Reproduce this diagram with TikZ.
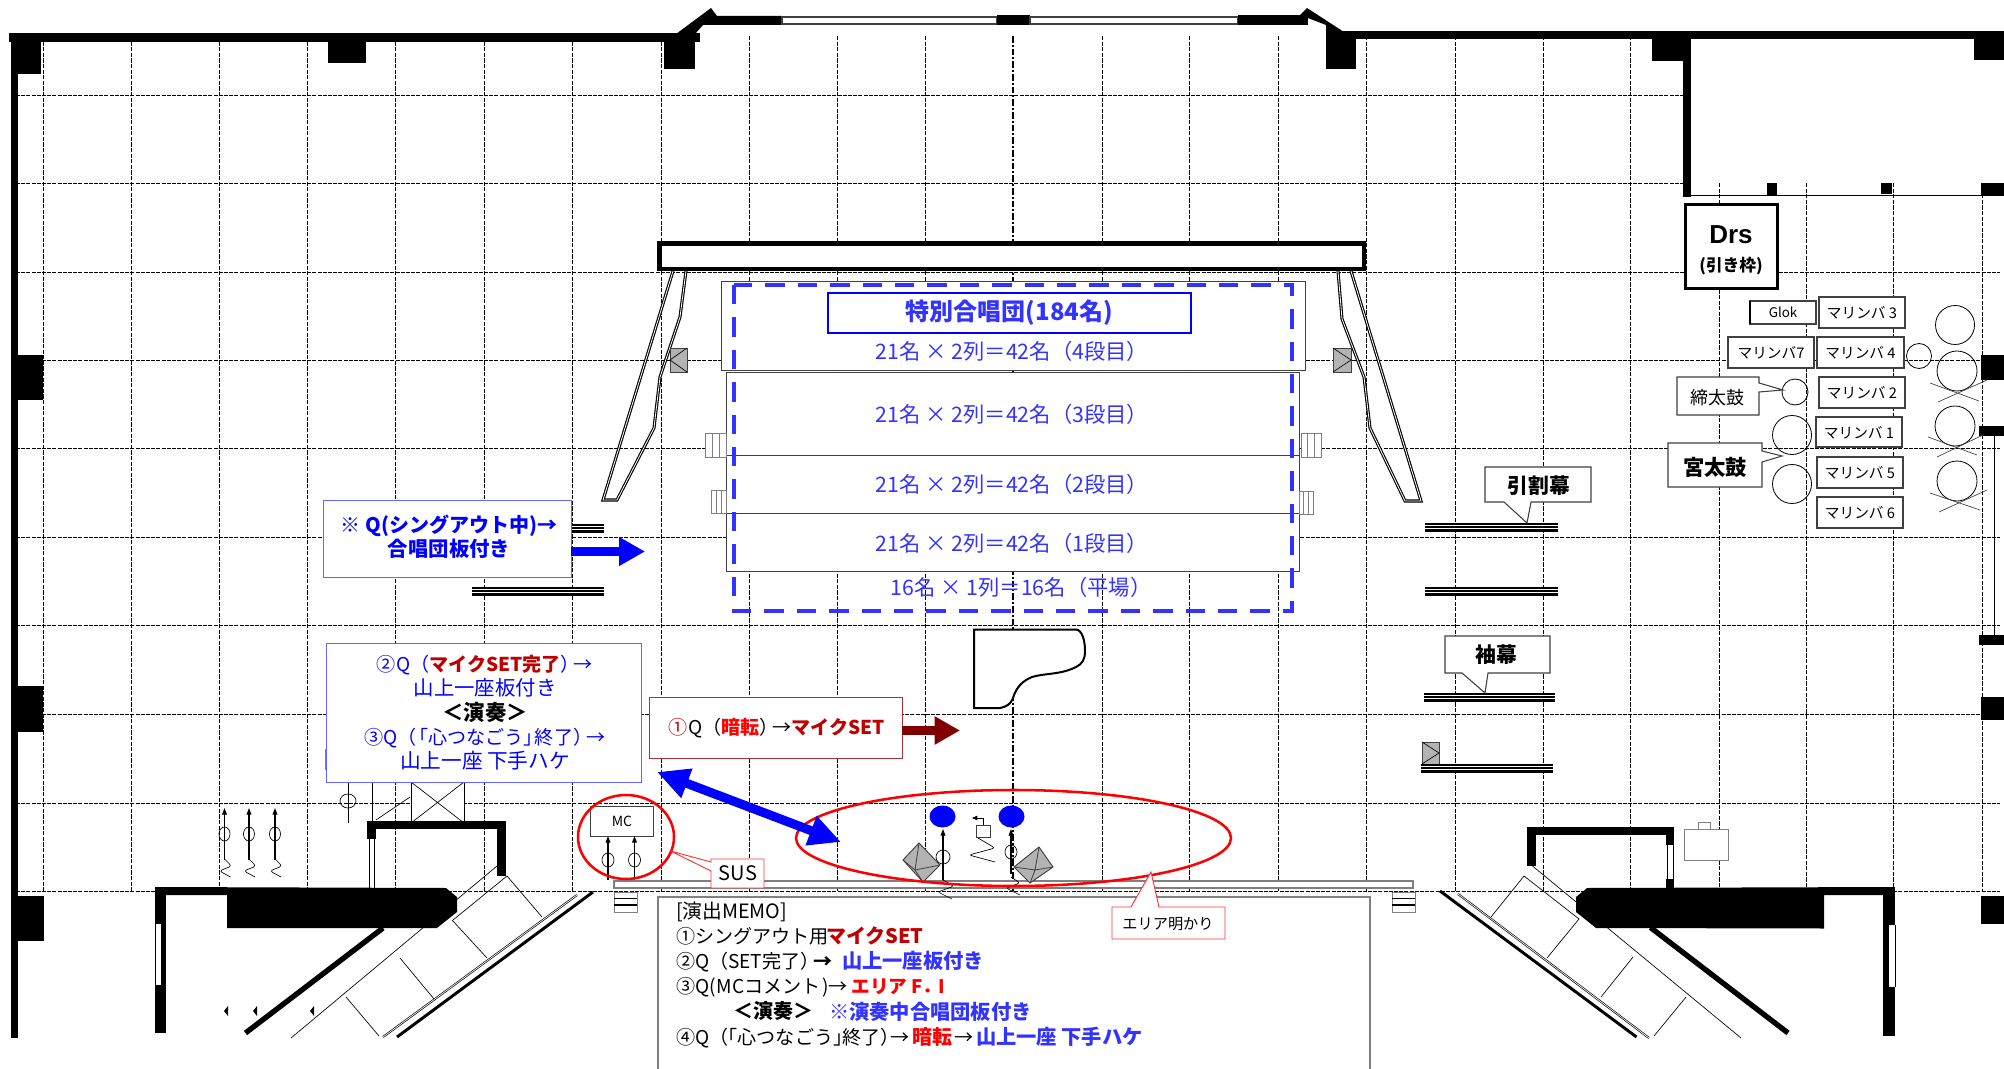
\documentclass[tikz,border=0pt]{standalone}
\usepackage{fontspec}
\setmainfont{Noto Sans CJK JP}
\newfontfamily\lat{Liberation Sans}
\usetikzlibrary{arrows.meta}
\definecolor{qblue}{HTML}{0000FF}
\definecolor{cblue}{HTML}{3333FF}
\definecolor{dred}{HTML}{C00000}
\definecolor{mred}{HTML}{FF0000}
\definecolor{arrred}{HTML}{7F0000}
\definecolor{lgrey}{HTML}{808080}
\definecolor{dgrey}{HTML}{404040}
\newcommand{\fs}[1]{\fontsize{#1}{#1}\selectfont}
\tikzset{
 x=0.75pt,y=-0.75pt,
 gridh/.style={line width=0.6pt,dash pattern=on 3pt off 0.9pt},
 gridv/.style={line width=0.5pt,dash pattern=on 3.2pt off 1pt},
 gridc/.style={line width=1.5pt,dash pattern=on 5pt off 1.5pt on 1.5pt off 1.5pt},
 wingline/.style={draw=black,line width=0.85pt,double=white,double distance=0.6pt,line join=miter},
 thinl/.style={line width=0.5pt,draw=black},
 txt/.style={inner sep=0pt,outer sep=0pt,align=center,text depth=0pt},
 rowtxt/.style={txt,text=cblue,font=\fs{16}},
 qbox/.style={draw=qblue!60!white,fill=white,line width=0.7pt},
 greybox/.style={draw=dgrey,fill=lgrey!60!white,line width=0.5pt},
 choir/.style={draw=dgrey,fill=white,line width=0.6pt},
 callout/.style={draw=dgrey,fill=white,line width=0.8pt,line join=miter},
 redcall/.style={draw=mred!80!white,fill=white,line width=0.7pt,line join=miter},
 redring/.style={draw=mred,line width=1.9pt},
 mic/.style={draw=black,line width=0.7pt},
 micarrow/.style={draw=black,line width=0.8pt,-{Triangle[length=5pt,width=3.6pt]}},
 squig/.style={draw=black,line width=0.5pt,rounded corners=2pt},
 stagewall/.style={fill=black},
}
\begin{document}
\begin{tikzpicture}
\useasboundingbox (0,0) rectangle (2004,1069);
\fill[white] (0,0) rectangle (2004,1069);

% ---------- grid ----------
\foreach \y in {95,183} \draw[gridh] (16,\y) -- (1685,\y);
\foreach \y in {272,360,448,537,625,714,803,891} \draw[gridh] (16,\y) -- (2000,\y);
\foreach \x in {43,131,219,307,395,484,572,661,749,837,925,1102,1189,1278,1366,1455,1543,1630}
  \draw[gridv] (\x,36) -- (\x,891);
\foreach \x in {1719,1806,1893,1982} \draw[gridv] (\x,183) -- (\x,891);
\draw[gridc] (1013,36) -- (1013,891);

% ---------- walls ----------
\fill[stagewall] (9,33) rectangle (700,42);
\fill[stagewall] (11,33) rectangle (18,1038);
\fill[stagewall] (11,42) rectangle (41,74);
\fill[stagewall] (328,42) rectangle (366,63);
\fill[stagewall] (664,33) rectangle (695,69);
\fill[stagewall] (11,355) rectangle (43,400);
\fill[stagewall] (11,686) rectangle (43,732);
\fill[stagewall] (11,896) rectangle (44,941);
\fill[stagewall] (676,34) -- (711,8) -- (717,16) -- (782,16) -- (782,25) -- (703,25) -- (695,34) -- cycle;
\draw[line width=0.8pt,draw=dgrey,fill=white] (782,17) rectangle (997,24);
\fill[stagewall] (997,15) rectangle (1030,25);
\draw[line width=0.8pt,draw=dgrey,fill=white] (1030,17) rectangle (1238,24);
\fill[stagewall] (1238,15) rectangle (1308,25);
\fill[stagewall] (1307,8) -- (1344,32) -- (1326,32) -- (1326,25) -- (1300,15) -- cycle;
\fill[stagewall] (1326,31) rectangle (2004,39);
\fill[stagewall] (1326,31) rectangle (1356,69);
\fill[stagewall] (1652,39) rectangle (1691,61);
\fill[stagewall] (1683,39) rectangle (1691,197);
\fill[stagewall] (1974,39) rectangle (2004,60);
\draw[line width=0.8pt] (1691,195.5) -- (2004,195.5);
\fill[stagewall] (1767,183) rectangle (1777,195);
\fill[stagewall] (1881,183) rectangle (1892,194);
\fill[stagewall] (1981,183) rectangle (2004,196);
\fill[stagewall] (1981,355) rectangle (2004,380);
\fill[stagewall] (1979,426) rectangle (2004,436);
\fill[stagewall] (1979,635) rectangle (2004,645);
\fill[stagewall] (1981,697) rectangle (2004,720);
\fill[stagewall] (1981,896) rectangle (2004,924);
\draw[line width=0.6pt] (1994,436) -- (1994,635);

% ---------- wings and top bar ----------
\draw[wingline] (673,271) -- (603,500) -- (617,500) -- (654,428) -- (660,377) -- (680,317) -- (686,271);
\draw[wingline] (1351,271) -- (1421,501) -- (1405,501) -- (1370,428) -- (1364,377) -- (1342,319) -- (1338,271);
\draw[line width=3.7pt,fill=white] (659.5,243.5) rectangle (1364,269);

% ---------- grey stands ----------
\draw[greybox] (670,348) rectangle (687,372);
\draw[line width=0.5pt] (687,348) -- (670,360) -- (687,372);
\draw[greybox] (1333,348) rectangle (1351,372);
\draw[line width=0.5pt] (1333,348) -- (1351,360) -- (1333,372);
\draw[greybox] (1422,742) rectangle (1439,764);
\draw[line width=0.5pt] (1422,742) -- (1439,753) -- (1422,764);

% ---------- curtains ----------
\foreach \a/\b/\y in {472/604/524,472/604/587,1425/1558/523,1425/1558/587,1424/1555/693,1421/1553/764}{
  \fill[black] (\a,\y) rectangle (\b,\y+8.5);
  \draw[white,line width=0.7pt] (\a,\y+2.8) -- (\b,\y+2.8);
  \draw[white,line width=0.7pt] (\a,\y+5.8) -- (\b,\y+5.8);
}

% ---------- choir platforms ----------
\draw[choir] (721,281) rectangle (1305,370);
\draw[choir] (726,372) rectangle (1299,455);
\draw[choir] (726,455) rectangle (1299,513);
\draw[choir] (726,513) rectangle (1299,571.5);
\foreach \a/\b/\t/\u in {705/726/433/457,711/726/490/513,1301/1321/433/457,1299/1313/491/514}{
  \draw[draw=lgrey,line width=0.6pt,fill=white] (\a,\t) rectangle (\b,\u);
  \draw[draw=lgrey,line width=0.6pt] ({(2*\a+\b)/3},\t) -- ({(2*\a+\b)/3},\u);
  \draw[draw=lgrey,line width=0.6pt] ({(\a+2*\b)/3},\t) -- ({(\a+2*\b)/3},\u);
}
\draw[draw=cblue,line width=3pt,dash pattern=on 14.5pt off 9.8pt] (734,285) rectangle (1292,611);
\node[draw=qblue,fill=white,line width=1.5pt,minimum width=272pt,minimum height=30pt,inner sep=0pt,text=cblue,font=\fs{18}\bfseries] (title) at (1009.5,313) {特別合唱団(184名)};
\node[rowtxt] (r4) at (1012,350) {21名 × 2列＝42名（4段目）};
\node[rowtxt] (r3) at (1012,413) {21名 × 2列＝42名（3段目）};
\node[rowtxt] (r2) at (1012,483) {21名 × 2列＝42名（2段目）};
\node[rowtxt] (r1) at (1012,542) {21名 × 2列＝42名（1段目）};
\node[rowtxt] (r0) at (1021,586) {16名 × 1列＝16名（平場）};

% ---------- piano ----------
\draw[line width=1.5pt,fill=white] (974,629.5) -- (1076,629.5) .. controls (1082,630) and (1085,640) .. (1085,651)
  .. controls (1085,660) and (1082,664) .. (1076,667) .. controls (1060,675) and (1045,673) .. (1032,677)
  .. controls (1022,681) and (1016,688) .. (1013,698) .. controls (1011,704) and (1006,707) .. (1000,708) -- (974,708) -- cycle;

% ---------- left lower structures ----------
\draw[thinl] (348,782) -- (348,823);
\draw[thinl] (348,801) ellipse [x radius=8,y radius=7];
\draw[thinl] (372.5,782) -- (372.5,825);
\draw[thinl,fill=white] (411,782) rectangle (464,823);
\draw[thinl] (411,823) -- (464,782) (411,782) -- (464,823);
\draw[thinl] (376,820) -- (410,797);
\draw[draw=lgrey,line width=0.7pt] (325,749) -- (325,770);

% left mics
\foreach \x in {224.5,249,275}{
  \draw[micarrow] (\x,860) -- (\x,808);
  \draw[mic,line width=0.5pt] (\x,834) ellipse [x radius=5.5,y radius=7];
  \draw[squig] (\x,859) -- (\x+7,866) -- (\x-5,871) -- (\x+6,877);
}

% left U wall
\fill[stagewall] (367,821) rectangle (506,828.5);
\fill[stagewall] (497,821) rectangle (506,876);
\fill[stagewall] (367,821) rectangle (376,839);
\draw[thinl] (369,839) -- (369,888) (374,839) -- (374,888);

% right U wall
\fill[stagewall] (1527,827) rectangle (1674,835);
\fill[stagewall] (1527,827) rectangle (1536,866);
\fill[stagewall] (1666,827) rectangle (1674,845);
\fill[stagewall] (1666,879) rectangle (1674,888);
\draw[thinl] (1667,845) -- (1667,879) (1673,845) -- (1673,879);

% left stage block
\fill[stagewall] (157,887) -- (446,888) -- (457,897) -- (457,912) -- (437,928) -- (227,928) -- (227,895) -- (157,895) -- cycle;
\fill[stagewall] (155,887) rectangle (166,924);
\fill[stagewall] (155,985) rectangle (166,1033);
\fill[stagewall] (161,924) rectangle (166,985);
\draw[draw=black,line width=0.5pt] (155,924) -- (155,985);
\draw[line width=4pt] (383,928) -- (245.5,1033);
\draw[thinl] (497,866) -- (291,1038);
\draw[thinl] (507,876) -- (453,920);
\draw[thinl] (507,876) -- (542,917);
\draw[thinl] (452,920) -- (487,958);
\draw[thinl] (400,958) -- (434,999);
\draw[thinl] (346,997) -- (379,1036);
\draw[line width=0.5pt,double=white,double distance=0.5pt] (577,895) -- (383,1037);
\draw[line width=2.2pt] (593,892) -- (397,1037);
\foreach \x in {226,255,312} \fill[black] (\x-2,1011) -- (\x+2,1006) -- (\x+2,1016) -- cycle;

% right stage block
\fill[stagewall] (1587,888) -- (1892,887) -- (1892,895) -- (1824,895) -- (1824,928.5) -- (1596,928) -- (1576,912) -- (1576,897) -- cycle;
\fill[stagewall] (1883,887) rectangle (1895,925);
\fill[stagewall] (1883,987) rectangle (1895,1036);
\fill[stagewall] (1883,925) rectangle (1889,987);
\draw[draw=black,line width=0.5pt] (1895,925) -- (1895,987);
\draw[line width=4pt] (1650.5,927.5) -- (1788,1033);
\draw[thinl] (1532.5,866) -- (1741,1038);
\draw[thinl] (1524,876) -- (1579,919);
\draw[thinl] (1524,876) -- (1491,917);
\draw[thinl] (1579,919) -- (1547,958);
\draw[thinl] (1633,957) -- (1601,997);
\draw[thinl] (1686,997) -- (1654,1036);
\draw[line width=0.5pt,double=white,double distance=0.5pt] (1458,894) -- (1649,1038);
\draw[line width=2.2pt] (1440,891) -- (1636.5,1037);
\draw[draw=lgrey,line width=0.7pt,fill=white] (1684,829.5) rectangle (1728,860);
\draw[draw=lgrey,line width=0.7pt,fill=white] (1698,822) rectangle (1710.5,829.5);

% ---------- stage edge, ladders, memo ----------
\draw[draw=lgrey,line width=1pt,fill=white] (614,881) rectangle (1413,888);
\foreach \a in {614,1392}{
  \draw[draw=lgrey,line width=0.7pt,fill=white] (\a,892) rectangle (\a+23,912);
  \draw[line width=1.2pt] (\a,898.5) -- (\a+23,898.5) (\a,905) -- (\a+23,905);
}
\path[fill=white] (658,897) rectangle (1370,1069);
\draw[draw=lgrey,line width=0.8pt] (658,1069) -- (658,897) -- (1370,897) -- (1370,1069);
\begin{scope}[every node/.style={txt,anchor=west,font=\fs{14.3}}]
\node[font=\fs{14.8}] (m1) at (676,910) {[演出MEMO]};
\node (m2) at (676,935) {\makebox[112.5pt][l]{①シングアウト用}\textcolor{dred}{\fs{15}\bfseries マイクSET}};
\node (m3) at (676,960) {\makebox[124.5pt][l]{②Q（SET完了）\kern-.3em\textbf{→}}\textcolor{cblue}{\fs{15.2}\bfseries 山上一座板付き}};
\node (m4) at (676,985) {\makebox[131.5pt][l]{③Q(\kern1pt MCコメント\kern1pt)→}\textcolor{mred}{\fs{14}\bfseries エリア\kern3pt F．\kern-2pt I}};
\node[font=\fs{15}\bfseries] (m5) at (733,1010.4) {＜演奏＞};
\node[text=cblue,font=\fs{15.2}\bfseries] (m5b) at (829,1010.4) {※演奏中合唱団板付き};
\node (m6) at (676,1036) {\makebox[177pt][l]{④Q（\kern-.5em「心つなごう」\kern-.5em終了）\kern-.5em→}\makebox[30pt][l]{\textcolor{mred}{\fs{15}\bfseries 暗転}}\makebox[18pt][c]{→}\textcolor{cblue}{\fs{15.2}\bfseries 山上一座 下手ハケ}};
\end{scope}

% ---------- red rings and mics ----------
\node[draw=dgrey,line width=0.7pt,fill=white,minimum width=47pt,minimum height=22.5pt,inner sep=0pt,font=\fs{10.5}] (mc) at (622,821) {MC};
\foreach \x/\n in {608/a,634.5/b}{
  \coordinate (mc\n) at (\x,880);
  \draw[micarrow] (mc\n) -- (\x,836);
  \draw[thinl] (\x,860) ellipse [x radius=6,y radius=7];
}
\draw[redring] (626,837) ellipse [x radius=48,y radius=42];

% diamonds
\draw[greybox,line width=0.7pt] (919,843) -- (940,865) -- (923,882) -- (903,860) -- cycle;
\draw[line width=0.6pt,draw=dgrey] (919,843) -- (915,870) -- (903,860) (915,870) -- (940,865) (915,870) -- (923,882);
\draw[greybox,line width=0.7pt] (1039,847) -- (1053,867) -- (1030,883) -- (1014,867) -- cycle;
\draw[line width=0.6pt,draw=dgrey] (1039,847) -- (1035,870) -- (1053,867) (1035,870) -- (1014,867) (1035,870) -- (1030,883);

% performers
\fill[qblue] (942.5,816.5) ellipse [x radius=13,y radius=11];
\fill[qblue] (1011.5,816.5) ellipse [x radius=13,y radius=11];
\draw[micarrow] (943,880) -- (943,829);
\draw[micarrow] (1011,874) -- (1011,829);
\draw[thinl] (943,857) ellipse [x radius=7,y radius=7];
\draw[thinl] (1011,852) ellipse [x radius=6,y radius=7];
\draw[draw=dgrey,line width=0.6pt] (976,825) rectangle (990,837);
\draw[line width=0.6pt,-{Triangle[length=4pt,width=3.4pt]}] (983,825) -- (983,818) -- (972,818);
\draw[squig] (978,838) -- (995,848) -- (969,855) -- (995,862);
\draw[squig] (943,880) -- (954,886) -- (938,892) -- (952,899);
\draw[squig] (1011,877) -- (1020,883) -- (1006,888) -- (1020,895);
\draw[redring] (1013.5,838) ellipse [x radius=217.5,y radius=48];

% ---------- callouts ----------
\path[redcall] (711,859) -- (764,859) -- (764,888) -- (711,888) -- (711,871) -- (670.5,851) -- (711,862) -- cycle;
\node[txt,font=\fs{15}] (sus) at (738,873) {SUS};
\path[redcall] (1112,907) -- (1131,907) -- (1151,872) -- (1159,907) -- (1225,907) -- (1225,939) -- (1112,939) -- cycle;
\node[txt,font=\fs{11.4}] (area) at (1168,923) {エリア明かり};
\path[callout] (1485,467) -- (1591,467) -- (1591,502) -- (1531,502) -- (1527,523) -- (1504,502) -- (1485,502) -- cycle;
\node[txt,font=\fs{15.6}\bfseries] (hiki) at (1539,485) {引割幕};
\path[callout] (1445,636) -- (1550,636) -- (1550,673) -- (1488,673) -- (1485,693) -- (1462,673) -- (1445,673) -- cycle;
\node[txt,font=\fs{15.6}\bfseries] (sode) at (1496,654) {袖幕};

% ---------- cue boxes ----------
\draw[qbox] (323,500) rectangle (571,577);
\node[txt,text=qblue,font=\fs{15}\bfseries] (q0a) at (449,524) {※ Q(シングアウト中)→};
\node[txt,text=qblue,font=\fs{15.3}\bfseries] (q0b) at (449,548) {合唱団板付き};
\draw[qbox] (326,643.5) rectangle (641,782.5);
\node[txt,text=qblue,font=\fs{14.3}] (q2) at (485,663) {②Q（\textcolor{dred}{\bfseries マイクSET完了}）\kern-.3em→};
\node[txt,text=qblue,font=\fs{15.3}] (q2b) at (485,687) {山上一座板付き};
\node[txt,font=\fs{16}\bfseries] (q2c) at (485,711) {＜演奏＞};
\node[txt,text=qblue,font=\fs{14.3}] (q3) at (485,736) {③Q（\kern-.4em「心つなごう」\kern-.4em終了）\kern-.3em→};
\node[txt,text=qblue,font=\fs{15.5}] (q3b) at (485,760) {山上一座 下手ハケ};
\draw[draw=dred!60!lgrey,fill=white,line width=0.7pt] (649,697) rectangle (902,758);
\node[txt,font=\fs{14.3}] (q1) at (777,726) {\textcolor{dred}{①}Q（\textcolor{mred}{\bfseries 暗転}）\kern-.3em→\textcolor{dred}{\bfseries マイクSET}};

% ---------- block arrows ----------
\coordinate (qa) at (571,551.5);
\coordinate (qb) at (645,551.5);
\draw[qblue,line width=6.8pt,-{Triangle[length=19.5pt,width=20.5pt]}] (qa) -- (qb);
\coordinate (ra) at (902,730.5);
\coordinate (rb) at (960,730.5);
\draw[arrred,line width=6.5pt,-{Triangle[length=19pt,width=20pt]}] (ra) -- (rb);
\coordinate (da) at (657,772);
\coordinate (db) at (841,842);
\draw[qblue,line width=6.8pt,{Triangle[length=24pt,width=22pt]}-{Triangle[length=24pt,width=22pt]}] (da) -- (db);

% ---------- Drs ----------
\node[draw=black,fill=white,line width=2.3pt,minimum width=69pt,minimum height=63pt,inner sep=0pt] (drs) at (1731.5,246.5) {};
\node[txt,font=\lat\fs{19.5}\bfseries] (drst) at (1731,235) {Drs};
\node[txt,font=\fs{12.5}\bfseries] (drss) at (1731,264) {(引き枠)};

% ---------- instruments ----------
\foreach \x/\y/\r in {1919/356/12.5,1955/325/19.5,1957/371/20,1955/426/20,1957/481/20,1795/392/13,1792/435/19.5,1792/484/19.5}
  \draw[line width=0.6pt,fill=none] (\x,\y) circle [radius=\r];
\foreach \a/\b/\c/\d in {1930/383/1979/401,1938/402/1987/380,1928/437/1977/455,1937/457/1983/435,1930/493/1980/510,1939/512/1987/490}
  \draw[line width=0.5pt,draw=dgrey] (\a,\b) -- (\c,\d);
\draw[draw=dgrey,fill=white,line width=0.8pt] (1750,301) rectangle (1816,324);
\draw[line width=0.8pt] (1750,301) -- (1750,324);
\node[txt,font=\fs{10}] (glok) at (1783,312.5) {Glok};
\foreach \a/\b/\c/\d/\n/\t in {1819/297/1905/328/m3x/マリンバ 3,1728/337/1814/368/m7x/マリンバ7,1817/337/1904/368/m4x/マリンバ 4,1819/377/1905/408/mb2/マリンバ 2,1816/417/1902/447/mb1/マリンバ 1,1817/457/1903/488/mb5/マリンバ 5,1817/497/1903/528/mb6/マリンバ 6}{
  \draw[draw=dgrey,fill=white,line width=0.8pt] (\a,\b) rectangle (\c,\d);
  \node[txt,font=\fs{11}] (\n) at ({(\a+\c)/2},{(\b+\d)/2}) {\t};
}
\path[callout] (1677,377) -- (1759,377) -- (1759,383) -- (1783,390) -- (1759,392) -- (1759,415) -- (1677,415) -- cycle;
\node[txt,font=\fs{13.5}] (shime) at (1717,397) {締太鼓};
\path[callout] (1668,443) -- (1762,443) -- (1762,451) -- (1782,456) -- (1762,462) -- (1762,487) -- (1668,487) -- cycle;
\node[txt,font=\fs{16}\bfseries] (miya) at (1715,466) {宮太鼓};
\end{tikzpicture}
\end{document}
